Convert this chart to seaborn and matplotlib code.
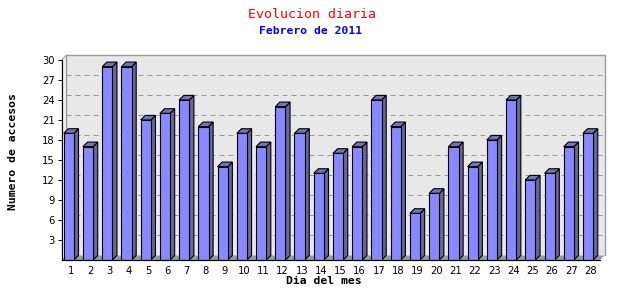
import matplotlib
matplotlib.use("Agg")
import matplotlib.pyplot as plt
from matplotlib.patches import Polygon, Rectangle
import seaborn as sns
import pandas as pd

# ---- data ----
days = [str(d) for d in range(1, 29)]
accesses = [19, 17, 29, 29, 21, 22, 24, 20, 14, 19, 17, 23, 19, 13,
            16, 17, 24, 20, 7, 10, 17, 14, 18, 24, 12, 13, 17, 19]
y_ticks = [3, 6, 9, 12, 15, 18, 21, 24, 27, 30]
title = "Evolucion diaria"
subtitle = "Febrero de 2011"
xlabel = "Dia del mes"
ylabel = "Numero de accesos"

df = pd.DataFrame({"day": days, "n": accesses})

sns.set_style("white")
plt.rcParams["font.family"] = ["DejaVu Sans"]

W, H, DPI = 640, 300, 100
PX = 72.0 / DPI  # one pixel in points
fig = plt.figure(figsize=(W / DPI, H / DPI), dpi=DPI)
fig.patch.set_facecolor("white")

ax_l, ax_r, ax_top, ax_bot = 61.5, 600, 60, 260
ax = fig.add_axes([ax_l / W, (H - ax_bot) / H, (ax_r - ax_l) / W, (ax_bot - ax_top) / H])
ax.set_xlim(-0.5, 27.5)
ax.set_ylim(0, 30)
ax.patch.set_alpha(0)

# depth offset in pixels -> data units
DEP = 4.6
px_x = (ax_r - ax_l) / 28.0
px_y = (ax_bot - ax_top) / 30.0
dx = DEP / px_x
dy = DEP / px_y

wall_c = "#e8e8e8"
edge_c = "#9a9a9a"
floor_c = "#9a9a9a"
front_c = "#8888ff"
side_c = "#666699"
top_c = "#7474b4"

# back wall
ax.add_patch(Rectangle((-0.5 + dx, dy), 28, 30, facecolor=wall_c, edgecolor="none",
                       zorder=0, clip_on=False))
ax.plot([-0.5 + dx, -0.5 + dx, 27.5 + dx, 27.5 + dx], [dy, 30 + dy, 30 + dy, dy],
        color=edge_c, lw=1.4 * PX, zorder=0.5, clip_on=False, solid_joinstyle="miter")
# left side wall
ax.add_patch(Polygon([(-0.5, 0), (-0.5 + dx, dy), (-0.5 + dx, 30 + dy), (-0.5, 30)],
                     closed=True, facecolor="#f4f4f4", edgecolor="none", zorder=0.4,
                     clip_on=False))
ax.plot([-0.5, -0.5 + dx], [30, 30 + dy], color=edge_c, lw=PX, zorder=0.5, clip_on=False)
# floor
ax.add_patch(Polygon([(-0.5, 0), (27.5, 0), (27.5 + dx, dy), (-0.5 + dx, dy)],
                     closed=True, facecolor=floor_c, edgecolor="none", zorder=0.6,
                     clip_on=False))
# grid lines on back wall
for t in y_ticks[:-1]:
    ax.plot([-0.5 + dx, 27.5 + dx], [t + dy, t + dy], color=edge_c, lw=PX,
            ls=(0, (5, 4)), zorder=0.7, clip_on=False)

# bars (front faces)
sns.barplot(data=df, x="day", y="n", color=front_c, saturation=1, width=0.53,
            edgecolor="black", linewidth=PX * 1.1, ax=ax, zorder=2)

shift = 0.12
front_rgb = matplotlib.colors.to_rgb(front_c)
for p in list(ax.patches):
    if not isinstance(p, Rectangle) or tuple(p.get_facecolor()[:3]) != front_rgb:
        continue
    p.set_x(p.get_x() - shift)
    x0, w, h = p.get_x(), p.get_width(), p.get_height()
    x1 = x0 + w
    ax.add_patch(Polygon([(x1, 0), (x1 + dx, dy), (x1 + dx, h + dy), (x1, h)], closed=True,
                         facecolor=side_c, edgecolor="black", lw=PX * 1.1, zorder=1.9,
                         clip_on=False, joinstyle="miter"))
    ax.add_patch(Polygon([(x0, h), (x0 + dx, h + dy), (x1 + dx, h + dy), (x1, h)], closed=True,
                         facecolor=top_c, edgecolor="black", lw=PX * 1.1, zorder=1.9,
                         clip_on=False, joinstyle="miter"))

# axes styling
for s in ["top", "right"]:
    ax.spines[s].set_visible(False)
for s in ["left", "bottom"]:
    ax.spines[s].set_color("black")
    ax.spines[s].set_linewidth(PX * 1.2)
    ax.spines[s].set_zorder(3)

ax.set_yticks(y_ticks)
ax.set_yticklabels([str(t) for t in y_ticks])
ax.set_xticks(range(28))
ax.set_xticklabels(days)
ax.set_xticks([i - 0.5 for i in range(29)], minor=True)
ax.tick_params(axis="x", which="major", length=0, pad=4, labelsize=7.2, colors="black")
ax.tick_params(axis="x", which="minor", length=3, width=PX, direction="out", color="black")
ax.tick_params(axis="y", which="major", length=3, width=PX, direction="out", pad=2,
               labelsize=7.2, colors="black", left=True)
ax.set_xlabel("")
ax.set_ylabel("")

fig.text(312 / W, 1 - 14 / H, title, ha="center", va="center", color="#ff0000",
         fontsize=9.5, family="DejaVu Sans Mono")
fig.text(311 / W, 1 - 31 / H, subtitle, ha="center", va="center", color="#0000ff",
         fontsize=8.2, family="DejaVu Sans Mono", fontweight="bold")
fig.text(324 / W, 1 - 281 / H, xlabel, ha="center", va="center", color="black",
         fontsize=8.2, family="DejaVu Sans Mono", fontweight="bold")
fig.text(13 / W, 1 - 152 / H, ylabel, ha="center", va="center", color="black",
         fontsize=8.2, family="DejaVu Sans Mono", fontweight="bold", rotation=90)

fig.savefig("out.png", dpi=DPI, facecolor="white")
